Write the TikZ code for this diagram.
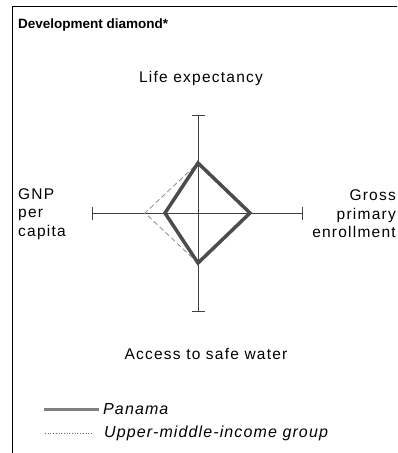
\documentclass[tikz,border=0pt]{standalone}
\usepackage{fontspec}
\setmainfont{Liberation Sans}
\newfontfamily\spacedfont[LetterSpace=8]{Liberation Sans}
\newfontfamily\legendfont[LetterSpace=7]{Liberation Sans}
\usepackage{tikz}
\usetikzlibrary{arrows.meta,positioning,calc}

\tikzset{
    axislabel/.style={inner sep=0pt, font=\fontsize{15.5}{18.5}\spacedfont},
    legendlabel/.style={inner sep=0pt, anchor=west, font=\fontsize{16}{18}\legendfont\itshape},
    axisline/.style={draw=black!75, line width=0.8pt, {Bar[width=13pt]}-{Bar[width=13pt]}},
    panamaline/.style={draw=black!70, line width=3.5pt, line join=miter},
    groupline/.style={draw=black!45, line width=0.8pt, dash pattern=on 5pt off 3pt}
}

\begin{document}
\begin{tikzpicture}[x=1pt, y=-1pt]
        \useasboundingbox (0,0) rectangle (397,453);

        \coordinate (frametop) at (397,6.5);
        \coordinate (framecorner) at (12.5,6.5);
        \coordinate (framebottom) at (12.5,453);
        \draw[line width=1pt] (frametop) -- (framecorner) -- (framebottom);

        \node (title) [anchor=west, inner sep=0pt, font=\fontsize{13.5}{16}\selectfont\bfseries] at (18,25) {Development diamond*};

        \node (life) [axislabel] at (201,78) {Life expectancy};
        \node (water) [axislabel] at (206,354) {Access to safe water};
        \node (gnp) [axislabel, anchor=west, align=left] at (18,214) {GNP\\per\\capita};
        \node (gross) [axislabel, anchor=east, align=right] at (396,214) {Gross\\primary\\enrollment};

        \coordinate (centre) at (198,213);
        \coordinate (lifeend) at (198,115);
        \coordinate (waterend) at (198,312);
        \coordinate (gnpend) at (92,213);
        \coordinate (grossend) at (303,213);

        \draw[axisline] (lifeend) -- (waterend);
        \draw[axisline] (gnpend) -- (grossend);

        \coordinate (grouptop) at (198,163);
        \coordinate (groupright) at (250,213);
        \coordinate (groupbottom) at (198,263);
        \coordinate (groupleft) at (145,213);
        \draw[groupline] (grouptop) -- (groupright) -- (groupbottom) -- (groupleft) -- cycle;

        \coordinate (panamatop) at (198,163);
        \coordinate (panamaright) at (250,213);
        \coordinate (panamabottom) at (198,263);
        \coordinate (panamaleft) at (165,213);
        \draw[panamaline] (panamatop) -- (panamaright) -- (panamabottom) -- (panamaleft) -- cycle;

        \node (panama) [legendlabel] at (103,409) {Panama};
        \node (group) [legendlabel] at (104,433) {Upper-middle-income group};
        \coordinate (panamakey) at (44,409);
        \coordinate (groupkey) at (45,433);
        \draw[draw=black!50, line width=3pt, shorten >=4pt] (panamakey) -- (panama.west);
        \draw[draw=black!60, line width=0.7pt, dotted] (groupkey) -- ($(group.west)+(-11,0)$);
    \end{tikzpicture}
\end{document}
